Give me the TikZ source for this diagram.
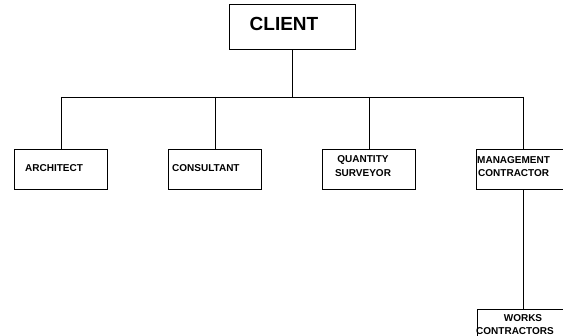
\documentclass[tikz,border=0pt]{standalone}
\usepackage{fontspec}
\setmainfont{Liberation Sans}
\begin{document}
\begin{tikzpicture}[x=1pt,y=-1pt,
  box/.style={draw, line width=0.8pt, inner sep=0pt, anchor=north west,
              minimum width=93pt, minimum height=40pt},
  lbl/.style={font=\bfseries\fontsize{10}{12}\selectfont, inner sep=0pt},
  wire/.style={line width=0.8pt}]
\useasboundingbox (0,0) rectangle (563,336);

% boxes
\node[box, minimum width=126pt, minimum height=45pt] (client) at (229,4) {};
\node[box] (arch)  at (14,149)  {};
\node[box] (cons)  at (168,149) {};
\node[box] (qs)    at (322,149) {};
\node[box] (mc)    at (476,149) {};
\node[box] (works) at (477,309) {};

% labels
\node[inner sep=0pt, font=\bfseries\fontsize{19}{22}\selectfont] (tclient) at (284,24) {CLIENT};
\node[lbl, anchor=west] (tarch) at (25,168) {ARCHITECT};
\node[lbl, anchor=west] (tcons) at (172,168) {CONSULTANT};
\node[lbl] (tqs1) at (363,160) {QUANTITY};
\node[lbl] (tqs2) at (363,173) {SURVEYOR};
\node[lbl, anchor=west] (tmc1) at (477,160) {MANAGEMENT};
\node[lbl, anchor=west] (tmc2) at (478,173) {CONTRACTOR};
\node[lbl] (tw1) at (523,318) {WORKS};
\node[lbl, anchor=west] (tw2) at (476,331) {CONTRACTORS};

% connectors
\coordinate (bus) at (0,97);
\draw[wire] (client.south) -- (client.south |- bus);
\draw[wire] (arch.north |- bus) -- (mc.north |- bus);
\foreach \n in {arch,cons,qs,mc} \draw[wire] (\n.north |- bus) -- (\n.north);
\draw[wire] (mc.south) -- (mc.south |- works.north);
\end{tikzpicture}
\end{document}
